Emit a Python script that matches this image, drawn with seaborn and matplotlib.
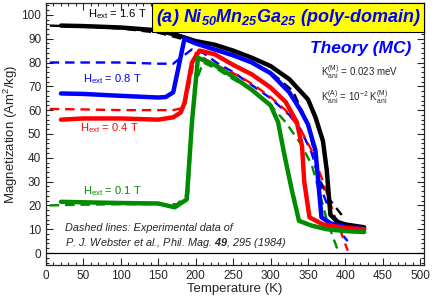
import numpy as np
import pandas as pd
import matplotlib
matplotlib.use('Agg')
import matplotlib.pyplot as plt
from matplotlib.ticker import MultipleLocator
import seaborn as sns

# Theory (MC), solid lines
t_16 = [20, 50, 100, 150, 175, 200, 225, 250, 275, 300, 325, 350, 360, 370, 375, 380, 390, 400, 425]
m_16 = [95.5, 95.3, 94.7, 93.5, 91.5, 89, 87.5, 85, 82, 78.5, 73, 64.5, 57, 47, 35, 16, 13, 12, 10.8]
t_08 = [20, 50, 100, 150, 160, 170, 185, 200, 225, 250, 275, 300, 325, 340, 350, 360, 368, 380, 400, 425]
m_08 = [67, 66.8, 66, 65.3, 65.5, 67.5, 90, 88, 85.5, 83, 80, 75.5, 67.5, 60, 54, 43, 15, 12.5, 11, 10]
t_04 = [20, 50, 100, 150, 170, 180, 185, 195, 205, 225, 250, 275, 300, 320, 335, 342, 345, 352, 370, 400, 425]
m_04 = [56, 56.5, 56.5, 56, 57, 59, 63, 80, 85, 83.5, 79, 75, 69.5, 63.5, 55, 45, 30, 15, 12, 10.5, 10]
t_01 = [20, 50, 100, 150, 172, 188, 195, 203, 225, 250, 275, 300, 310, 318, 328, 338, 355, 375, 400, 425]
m_01 = [21.5, 21.3, 21, 20.8, 19.2, 22.5, 55, 82, 79, 74, 68.5, 62, 55, 42, 27, 13.5, 11.5, 10, 9.2, 8.8]

# Experimental data (Webster et al.), dashed lines
te_16 = [5, 50, 100, 150, 175, 200, 250, 300, 330, 350, 360, 365, 380, 395]
me_16 = [95.5, 95, 94.3, 92.5, 90.5, 88, 83.5, 76, 68, 54, 40, 31, 22, 16]
te_08 = [5, 50, 100, 150, 170, 180, 195, 210, 230, 250, 275, 300, 325, 340, 355, 370, 385, 395, 403]
me_08 = [80, 80, 80, 79.5, 79.5, 82, 85.5, 84, 79.5, 76, 70.5, 65, 58, 52, 42, 25, 13, 8, 5]
te_04 = [5, 50, 100, 150, 170, 185, 192, 200, 215, 240, 260, 280, 300, 320, 340, 355, 370, 385, 395, 403]
me_04 = [60.5, 60.3, 60, 60, 60, 61, 72, 84, 81, 77, 74, 70, 65.5, 60, 52, 43, 30, 16, 8, 1]
te_01 = [5, 50, 100, 150, 175, 190, 198, 210, 230, 250, 275, 300, 320, 340, 355, 365, 375, 390]
me_01 = [20, 20.3, 20.5, 20.5, 20.5, 25, 70, 80, 77, 73, 68.5, 62, 55, 46, 37, 26, 14, 1]

fields = ['1.6', '0.8', '0.4', '0.1']
colors = ['black', '#0000ff', '#ff0000', '#008c00']
theory = [(t_16, m_16), (t_08, m_08), (t_04, m_04), (t_01, m_01)]
expt = [(te_16, me_16), (te_08, me_08), (te_04, me_04), (te_01, me_01)]

sns.set_style('ticks')
plt.rcParams['font.family'] = ['Liberation Sans', 'DejaVu Sans']
plt.rcParams['mathtext.default'] = 'regular'
plt.rcParams['mathtext.fontset'] = 'custom'
plt.rcParams['mathtext.rm'] = 'Liberation Sans'
plt.rcParams['mathtext.it'] = 'Liberation Sans:italic'
plt.rcParams['mathtext.bf'] = 'Liberation Sans:italic:bold'

fig = plt.figure(figsize=(4.36, 2.97), dpi=100)
ax = fig.add_axes([0.1055, 0.108, 0.867, 0.882])

for (te, me), c in zip(expt, colors):
    sns.lineplot(x=te, y=me, ax=ax, color=c, lw=1.7,
                 linestyle=(0, (4, 2.5)), sort=False, estimator=None)
for (t, m), c in zip(theory, colors):
    sns.lineplot(x=t, y=m, ax=ax, color=c, lw=3.2, sort=False, estimator=None)

ax.axhline(0, color='black', lw=0.9)
ax.set_xlim(0, 505)
ax.set_ylim(-5, 105)
ax.xaxis.set_major_locator(MultipleLocator(50))
ax.xaxis.set_minor_locator(MultipleLocator(10))
ax.yaxis.set_major_locator(MultipleLocator(10))
ax.yaxis.set_minor_locator(MultipleLocator(2))
ax.tick_params(which='both', direction='in', top=True, right=True, labelsize=8.5, width=0.8)
ax.tick_params(which='major', length=5)
ax.tick_params(which='minor', length=2.5)
ax.set_yticks(range(0, 101, 10))
ax.set_xlabel('Temperature (K)', fontsize=9.5, labelpad=1)
ax.set_ylabel('Magnetization (Am$^2$/kg)', fontsize=9.5, labelpad=1)
for s in ax.spines.values():
    s.set_linewidth(0.9)

lab_pos = [(56, 100.5), (50, 73), (46, 52.5), (50, 26)]
for f, c, (x, y) in zip(fields, colors, lab_pos):
    ax.text(x, y, 'H$_{ext}$ = ' + f + ' T', color=c, fontsize=8, va='center')

ax.text(0.99, 0.985, '(a) Ni$_{50}$Mn$_{25}$Ga$_{25}$ (poly-domain)',
        transform=ax.transAxes, ha='right', va='top', fontsize=13,
        fontweight='bold', fontstyle='italic', color='#0000ff',
        bbox=dict(boxstyle='square,pad=0.22', facecolor='#ffff00', edgecolor='black', lw=0.8))
ax.text(0.965, 0.825, 'Theory (MC)', transform=ax.transAxes, ha='right', va='center',
        fontsize=12.5, fontweight='bold', fontstyle='italic', color='#0000ff')
ax.text(368, 76, 'K$_{ani}^{(M)}$ = 0.023 meV', fontsize=7, va='center')
ax.text(368, 65.5, 'K$_{ani}^{(A)}$ = 10$^{-2}$ K$_{ani}^{(M)}$', fontsize=7, va='center')

ax.text(25, 10.5, 'Dashed lines: Experimental data of', fontsize=7.8, fontstyle='italic', va='center')
ax.text(25, 4.2, 'P. J. Webster et al., Phil. Mag. $\\mathbf{49}$, 295 (1984)',
        fontsize=7.8, fontstyle='italic', va='center')

fig.savefig('out.png', dpi=100)
